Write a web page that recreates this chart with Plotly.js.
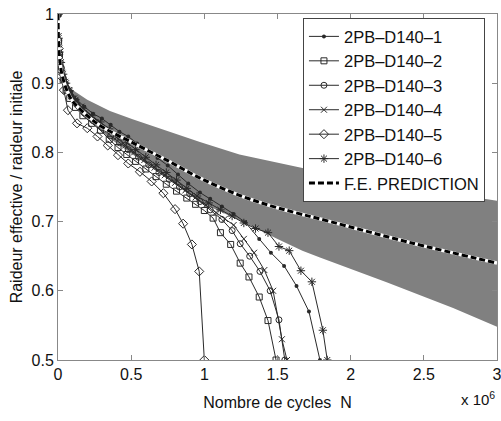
<!DOCTYPE html>
<html>
<head>
<meta charset="utf-8">
<script src="https://cdn.plot.ly/plotly-3.0.1.min.js"></script>
<style>html,body{margin:0;padding:0;background:#fff;}#chart{width:501px;height:421px;}</style>
</head>
<body>
<div id="chart"></div>
<script>
// Cycles (x 10^6) and stiffness ratio values
const bandX      = [0, 0.005, 0.015, 0.04, 0.07, 0.1, 0.2, 0.355, 0.51, 0.73, 0.97, 1.24, 1.5, 1.67, 1.79, 2.2, 2.25, 2.7, 3.0];
const bandUpper  = [1, 0.955, 0.932, 0.908, 0.897, 0.89, 0.876, 0.86, 0.848, 0.832, 0.815, 0.797, 0.785, 0.778, 0.772, 0.756, 0.754, 0.74, 0.73];
const bandLower  = [1, 0.95, 0.92, 0.895, 0.88, 0.868, 0.848, 0.82, 0.797, 0.765, 0.728, 0.702, 0.675, 0.658, 0.648, 0.616, 0.612, 0.575, 0.548];

const feX = [0, 0.005, 0.015, 0.03, 0.06, 0.1, 0.2, 0.3, 0.5, 0.75, 0.97, 1.24, 1.5, 1.86, 2.4, 3.0];
const feY = [1, 0.955, 0.928, 0.91, 0.89, 0.874, 0.853, 0.837, 0.815, 0.788, 0.763, 0.738, 0.72, 0.70, 0.67, 0.64];

const s1x = [0, 0.003, 0.008, 0.015, 0.025, 0.04, 0.06, 0.09, 0.13, 0.18, 0.24, 0.3, 0.36, 0.42, 0.48, 0.54, 0.61, 0.68, 0.75, 0.82, 0.89, 0.97, 1.04, 1.12, 1.2, 1.28, 1.375, 1.455, 1.545, 1.63, 1.715, 1.79];
const s1y = [1, 0.97, 0.955, 0.94, 0.925, 0.912, 0.9, 0.888, 0.876, 0.866, 0.856, 0.849, 0.84, 0.83, 0.823, 0.813, 0.803, 0.792, 0.781, 0.768, 0.755, 0.742, 0.733, 0.722, 0.711, 0.699, 0.675, 0.655, 0.636, 0.607, 0.57, 0.5];

const s2x = [0, 0.004, 0.01, 0.02, 0.035, 0.055, 0.08, 0.12, 0.17, 0.23, 0.29, 0.35, 0.41, 0.47, 0.53, 0.6, 0.67, 0.74, 0.81, 0.88, 0.94, 1.0, 1.06, 1.11, 1.18, 1.245, 1.305, 1.375, 1.435, 1.49];
const s2y = [1, 0.96, 0.94, 0.92, 0.905, 0.89, 0.878, 0.865, 0.853, 0.842, 0.832, 0.819, 0.807, 0.797, 0.787, 0.776, 0.765, 0.754, 0.744, 0.734, 0.725, 0.716, 0.705, 0.684, 0.667, 0.64, 0.62, 0.591, 0.557, 0.5];

const s3x = [0, 0.005, 0.012, 0.022, 0.038, 0.06, 0.09, 0.13, 0.18, 0.24, 0.3, 0.36, 0.42, 0.48, 0.55, 0.62, 0.69, 0.76, 0.83, 0.9, 0.97, 1.04, 1.12, 1.19, 1.245, 1.31, 1.38, 1.45, 1.51, 1.55];
const s3y = [1, 0.962, 0.942, 0.922, 0.905, 0.892, 0.88, 0.869, 0.857, 0.846, 0.836, 0.824, 0.814, 0.804, 0.793, 0.782, 0.771, 0.761, 0.75, 0.74, 0.729, 0.717, 0.703, 0.687, 0.668, 0.65, 0.628, 0.6, 0.558, 0.5];

const s4x = [0, 0.004, 0.009, 0.018, 0.03, 0.05, 0.075, 0.11, 0.16, 0.22, 0.28, 0.34, 0.4, 0.46, 0.52, 0.59, 0.66, 0.73, 0.8, 0.87, 0.94, 1.01, 1.08, 1.14, 1.2, 1.27, 1.34, 1.41, 1.47, 1.53, 1.565];
const s4y = [1, 0.968, 0.95, 0.93, 0.915, 0.902, 0.89, 0.878, 0.866, 0.854, 0.844, 0.833, 0.822, 0.81, 0.8, 0.789, 0.778, 0.767, 0.756, 0.745, 0.735, 0.724, 0.713, 0.704, 0.695, 0.675, 0.655, 0.63, 0.6, 0.53, 0.5];

const s5x = [0, 0.005, 0.01, 0.02, 0.04, 0.068, 0.13, 0.2, 0.27, 0.34, 0.41, 0.48, 0.56, 0.64, 0.72, 0.8, 0.855, 0.915, 0.965, 1.0];
const s5y = [1, 0.95, 0.93, 0.91, 0.89, 0.861, 0.842, 0.835, 0.823, 0.81, 0.796, 0.784, 0.772, 0.758, 0.741, 0.718, 0.697, 0.667, 0.628, 0.5];

const s6x = [0, 0.004, 0.01, 0.02, 0.035, 0.055, 0.08, 0.12, 0.17, 0.23, 0.29, 0.35, 0.41, 0.47, 0.53, 0.6, 0.67, 0.74, 0.81, 0.88, 0.95, 1.03, 1.11, 1.19, 1.27, 1.35, 1.435, 1.51, 1.58, 1.66, 1.735, 1.81, 1.84];
const s6y = [1, 0.965, 0.945, 0.93, 0.913, 0.9, 0.889, 0.876, 0.864, 0.853, 0.844, 0.834, 0.824, 0.814, 0.804, 0.793, 0.782, 0.771, 0.76, 0.748, 0.737, 0.727, 0.717, 0.708, 0.698, 0.69, 0.684, 0.664, 0.658, 0.629, 0.613, 0.543, 0.5];

const seriesNames = ['2PB\u2013D140\u20131', '2PB\u2013D140\u20132', '2PB\u2013D140\u20133', '2PB\u2013D140\u20134', '2PB\u2013D140\u20135', '2PB\u2013D140\u20136'];
const feName = 'F.E. PREDICTION';
const xTickVals = [0, 0.5, 1, 1.5, 2, 2.5, 3];
const xTickText = ['0', '0.5', '1', '1.5', '2', '2.5', '3'];
const yTickVals = [0.5, 0.6, 0.7, 0.8, 0.9, 1];
const yTickText = ['0.5', '0.6', '0.7', '0.8', '0.9', '1'];

const LC = '#2a2a2a';
const symbols = [
  {symbol: 'circle', size: 4, color: LC, line: {width: 0}},
  {symbol: 'square-open', size: 6, color: LC, line: {width: 1}},
  {symbol: 'circle-open', size: 6, color: LC, line: {width: 1}},
  {symbol: 'x-thin-open', size: 6, color: LC, line: {width: 1, color: LC}},
  {symbol: 'diamond-open', size: 7, color: LC, line: {width: 1}},
  {symbol: 'asterisk-open', size: 7, color: LC, line: {width: 1, color: LC}}
];
const xs = [s1x, s2x, s3x, s4x, s5x, s6x];
const ys = [s1y, s2y, s3y, s4y, s5y, s6y];

const traces = [
  {x: bandX, y: bandLower, mode: 'lines', line: {width: 0, color: '#808080'}, showlegend: false, hoverinfo: 'skip'},
  {x: bandX, y: bandUpper, mode: 'lines', line: {width: 0, color: '#808080'}, fill: 'tonexty', fillcolor: '#808080', showlegend: false, hoverinfo: 'skip'}
];
for (let i = 0; i < 6; i++) {
  traces.push({x: xs[i], y: ys[i], name: seriesNames[i], mode: 'lines+markers',
    line: {color: LC, width: 1}, marker: symbols[i]});
}
traces.push({x: feX, y: feY, mode: 'lines', line: {color: '#ffffff', width: 3.5, shape: 'spline'}, showlegend: false, hoverinfo: 'skip'});
traces.push({x: feX, y: feY, name: feName, mode: 'lines', line: {color: '#000000', width: 3, dash: '6px,3px', shape: 'spline'}});

const FONT = 'Liberation Sans, Arial, Helvetica, sans-serif';
const layout = {
  width: 501, height: 421,
  margin: {l: 58, r: 4, t: 14, b: 61},
  paper_bgcolor: '#ffffff', plot_bgcolor: '#ffffff',
  font: {family: FONT, size: 16, color: '#111111'},
  showlegend: true,
  legend: {x: 0.558, y: 0.988, xanchor: 'left', yanchor: 'top', bgcolor: '#ffffff', traceorder: 'normal',
    bordercolor: '#444444', borderwidth: 1, font: {family: FONT, size: 16.5, color: '#111111'}},
  xaxis: {range: [0, 3], tickvals: xTickVals, ticktext: xTickText, ticks: 'inside', ticklen: 5,
    tickcolor: '#888888', showline: true, linecolor: '#888888', linewidth: 1, mirror: 'ticks',
    showgrid: false, zeroline: false, tickfont: {size: 16}, ticklabeloverflow: 'allow',
    title: {text: 'Nombre de cycles  N', font: {size: 16}, standoff: 14}},
  yaxis: {range: [0.5, 1], tickvals: yTickVals, ticktext: yTickText, ticks: 'inside', ticklen: 5,
    tickcolor: '#888888', showline: true, linecolor: '#888888', linewidth: 1, mirror: 'ticks',
    showgrid: false, zeroline: false, tickfont: {size: 16}, ticklabeloverflow: 'allow',
    title: {text: 'Raideur effective / raideur initiale', font: {size: 16}, standoff: 4}},
  annotations: [{xref: 'paper', yref: 'paper', x: 1, y: -0.11, xanchor: 'right', yanchor: 'middle',
    showarrow: false, text: 'x 10<sup>6</sup>', font: {size: 15, color: '#111111'}}]
};
Plotly.newPlot('chart', traces, layout, {displayModeBar: false, staticPlot: true});
</script>
</body>
</html>
